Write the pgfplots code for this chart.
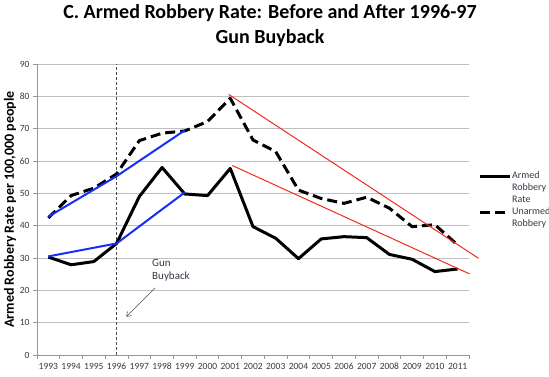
\documentclass[border=0pt]{standalone}
\usepackage{fontspec}
\setmainfont{Carlito}
\usepackage{pgfplots}
\pgfplotsset{compat=1.18}
\usetikzlibrary{arrows.meta}
\definecolor{gridgray}{RGB}{191,191,191}
\definecolor{axisgray}{RGB}{150,150,150}
\definecolor{labelgray}{RGB}{55,55,70}
\definecolor{trendblue}{RGB}{25,45,250}
\definecolor{trendred}{RGB}{245,40,25}
\pgfplotsset{
  legimgA/.style={legend image code/.code={\draw[##1] (0pt,12pt) -- (30pt,12pt);}},
  legimgB/.style={legend image code/.code={\draw[##1] (0pt,6pt) -- (30pt,6pt);}},
}
\begin{document}
\begin{tikzpicture}
\useasboundingbox (0,0) rectangle (549pt,377pt);
\begin{axis}[
  at={(37pt,22pt)}, anchor=south west,
  width=432pt, height=291pt, scale only axis,
  xmin=-0.5, xmax=18.5, ymin=0, ymax=90,
  axis lines*=left,
  axis line style={axisgray, line width=0.8pt},
  xtick={0,...,18},
  xticklabels={1993,1994,1995,1996,1997,1998,1999,2000,2001,2002,2003,2004,2005,2006,2007,2008,2009,2010,2011},
  major x tick style={draw=none},
  minor xtick={-0.5,0.5,...,18.5},
  ytick={0,10,...,90},
  ymajorgrids,
  grid style={gridgray, line width=0.8pt},
  tick align=outside,
  major tick length=4pt, minor tick length=4pt,
  tick style={axisgray, line width=0.8pt},
  tick label style={font=\fontsize{9.5}{10}\selectfont, text=labelgray},
  xticklabel style={text height=7pt, text depth=0pt},
  /pgf/number format/assume math mode=true,
  ylabel={Armed Robbery Rate per 100,000 people},
  ylabel style={font=\fontsize{14}{16}\selectfont\bfseries, at={(axis description cs:-0.0625,0.5)}, anchor=center},
  clip=false,
  legend style={at={(axis description cs:1.0208,0.63)}, anchor=north west, draw=none, fill=none, inner sep=0pt, row sep=3.5pt, font=\fontsize{10}{12}\selectfont, text=labelgray, nodes={inner ysep=0pt, inner xsep=1pt, align=left}},
  legend cell align=left,
]
\addplot[black!70, line width=0.8pt, dash pattern=on 3pt off 2pt, forget plot] coordinates {(3,0) (3,90)};

\addplot[black, line width=3pt, line join=round, legimgA]
  coordinates {(0,30.3) (1,27.9) (2,28.9) (3,34.5) (4,49.0) (5,58.0) (6,49.8) (7,49.3) (8,57.7) (9,39.7) (10,36.1) (11,29.8) (12,35.9) (13,36.6) (14,36.3) (15,31.1) (16,29.6) (17,25.8) (18,26.6)};
\addlegendentry{Armed\\Robbery\\Rate}

\addplot[black, line width=3pt, line join=round, dash pattern=on 10pt off 5pt, legimgB]
  coordinates {(0,42.4) (1,49.3) (2,51.6) (3,56.0) (4,66.3) (5,68.6) (6,69.3) (7,72.2) (8,79.4) (9,66.5) (10,62.9) (11,51.0) (12,48.4) (13,46.9) (14,48.8) (15,45.4) (16,39.7) (17,40.3) (18,34.0)};
\addlegendentry{Unarmed\\Robbery}

\addplot[trendblue, line width=2pt, forget plot] coordinates {(0,42.8) (3,55.3) (6,69.5)};
\addplot[trendblue, line width=2pt, forget plot] coordinates {(0,30.5) (3,34.5) (6,50.3)};
\addplot[trendred, line width=1pt, forget plot] coordinates {(7.93,80.6) (18.92,29.9)};
\addplot[trendred, line width=1pt, forget plot] coordinates {(8.09,58.6) (18.52,25.1)};

\draw[black!70, line width=0.6pt, -{Straight Barb[length=4pt,width=6pt]}] (axis cs:4.70,20.8) -- (axis cs:3.43,11.85);
\node[anchor=west, align=left, font=\fontsize{11}{13.5}\selectfont, text=labelgray, inner sep=0pt] at (axis cs:4.56,26.2) {Gun\\Buyback};
\end{axis}
\node[anchor=base, font=\fontsize{20}{24}\selectfont\bfseries] at (270pt,358pt) {C. Armed Robbery Rate: Before and After 1996-97};
\node[anchor=base, font=\fontsize{20}{24}\selectfont\bfseries] at (270pt,333pt) {Gun Buyback};
\end{tikzpicture}
\end{document}
